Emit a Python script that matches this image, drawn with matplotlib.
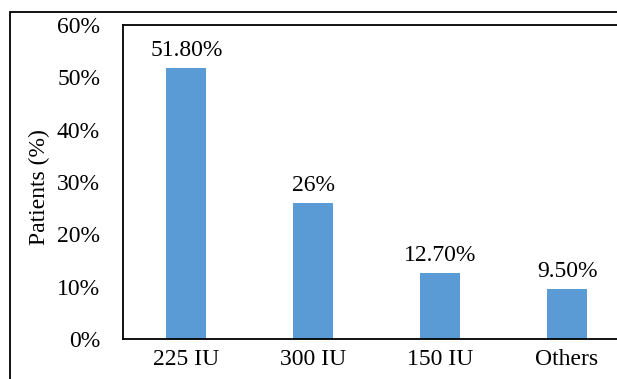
import matplotlib
matplotlib.use("Agg")
import matplotlib.pyplot as plt
from matplotlib.patches import Rectangle
from matplotlib.ticker import FuncFormatter

categories = ["225 IU", "300 IU", "150 IU", "Others"]
values = [51.8, 26, 12.7, 9.5]
bar_labels = ["51.80%", "26%", "12.70%", "9.50%"]

plt.rcParams['font.family'] = ['Liberation Serif', 'DejaVu Serif']
FS = 17

fig = plt.figure(figsize=(6.17, 3.79), dpi=100)
ax = fig.add_axes([123/617, 40/379, (630.5-123)/617, (339-25)/379])

x = range(len(categories))
bars = ax.bar(x, values, width=0.315, color="#5B9BD5", zorder=2)
for b, lab in zip(bars, bar_labels):
    ax.annotate(lab, (b.get_x() + b.get_width()/2, b.get_height()),
                xytext=(0, 5), textcoords="offset points",
                ha="center", va="bottom", fontsize=FS)

ax.set_xlim(-0.5, 3.5)
ax.set_ylim(0, 60)
ax.set_yticks(range(0, 61, 10))
ax.yaxis.set_major_formatter(FuncFormatter(lambda v, p: f"{int(v)}%"))
ax.set_xticks(list(x))
ax.set_xticklabels(categories)
ax.tick_params(axis='both', length=0, labelsize=FS)
ax.tick_params(axis='y', pad=16.5)
ax.tick_params(axis='x', pad=7)
ax.set_ylabel("Patients (%)", fontsize=FS)
ax.yaxis.set_label_coords((50-123)/507.5, 0.485)
for s in ax.spines.values():
    s.set_linewidth(1.3)
    s.set_color("black")

fig.patches.append(Rectangle((10/617, -0.2), 1.2, (379-12)/379 + 0.2,
                             transform=fig.transFigure, fill=False,
                             edgecolor="black", linewidth=1.3))

fig.savefig("out.png", dpi=100)
